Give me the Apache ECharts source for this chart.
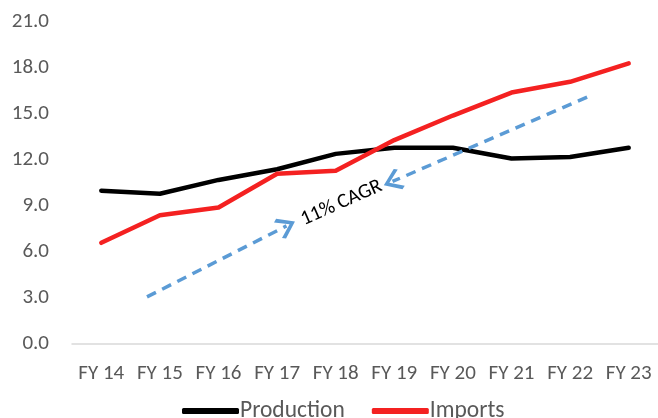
<!DOCTYPE html>
<html>
<head>
<meta charset="utf-8">
<script src="https://cdn.jsdelivr.net/npm/echarts@6/dist/echarts.min.js"></script>
<style>
  html, body { margin: 0; padding: 0; background: #fff; }
  #chart { width: 658px; height: 418px; }
</style>
</head>
<body>
<div id="chart"></div>
<script>
// Fiscal years on the category axis
const years = ['FY 14', 'FY 15', 'FY 16', 'FY 17', 'FY 18', 'FY 19', 'FY 20', 'FY 21', 'FY 22', 'FY 23'];
// Domestic production and imports per year
const production = [10.0, 9.8, 10.7, 11.4, 12.4, 12.8, 12.8, 12.1, 12.2, 12.8];
const imports = [6.6, 8.4, 8.9, 11.1, 11.3, 13.3, 14.9, 16.4, 17.1, 18.3];
// Value-axis ticks
const yTicks = [0, 3, 6, 9, 12, 15, 18, 21];
// Growth-trend arrows, in [year index, value] pairs: start then tip
const trendArrowUp = [[0.78, 3.07], [3.16, 7.7]];
const trendArrowDown = [[8.29, 16.1], [4.97, 10.6]];
// Position of the trend caption
const captionAt = [4.1, 9.2];
const captionText = '11% CAGR';

const font = 'Carlito, Calibri, "Noto Sans", sans-serif';
const chevron = 'path://M0,0 L10,9 L8,11 L0,3.5 L-8,11 L-10,9 Z';

const chart = echarts.init(document.getElementById('chart'));
chart.setOption({
  animation: false,
  grid: { left: 72, right: 0, top: 22, bottom: 74, containLabel: false },
  legend: {
    top: 394,
    left: 177,
    itemWidth: 57,
    itemHeight: 6,
    itemGap: 27,
    icon: 'roundRect',
    textStyle: { fontFamily: font, fontSize: 23.5, color: '#595959', padding: [0, 0, 0, -4] },
    data: ['Production', 'Imports']
  },
  xAxis: [
    {
      type: 'category',
      data: years,
      boundaryGap: true,
      axisLine: { lineStyle: { color: '#d9d9d9', width: 1.5 } },
      axisTick: { show: false },
      axisLabel: { fontFamily: font, fontSize: 21, color: '#595959', margin: 19, interval: 0 }
    },
    { type: 'value', min: -0.5, max: 9.5, show: false }
  ],
  yAxis: {
    type: 'value',
    min: yTicks[0],
    max: yTicks[yTicks.length - 1],
    interval: yTicks[1] - yTicks[0],
    splitLine: { show: false },
    axisLine: { show: false },
    axisTick: { show: false },
    axisLabel: {
      fontFamily: font, fontSize: 21, color: '#595959', margin: 23,
      formatter: v => v.toFixed(1)
    }
  },
  series: [
    {
      name: 'Production',
      type: 'line',
      data: production,
      symbol: 'none',
      itemStyle: { color: '#000000' },
      lineStyle: { color: '#000000', width: 4.5, cap: 'round', join: 'round' }
    },
    {
      name: 'Imports',
      type: 'line',
      data: imports,
      symbol: 'none',
      itemStyle: { color: '#f42121' },
      lineStyle: { color: '#f42121', width: 4.5, cap: 'round', join: 'round' }
    },
    {
      name: 'trend',
      type: 'line',
      xAxisIndex: 1,
      data: [],
      symbol: 'none',
      silent: true,
      markPoint: {
        silent: true,
        symbol: 'circle',
        symbolSize: 0,
        itemStyle: { color: 'rgba(0,0,0,0)' },
        label: {
          show: true,
          position: 'inside',
          formatter: captionText,
          rotate: 24,
          fontFamily: font,
          fontSize: 20.5,
          color: '#000000'
        },
        data: [{ coord: captionAt }]
      },
      markLine: {
        silent: true,
        symbol: ['none', chevron],
        symbolSize: [22, 19],
        label: { show: false },
        lineStyle: { color: '#5b9bd5', width: 3.5, type: [10, 7], cap: 'butt' },
        data: [
          [{ coord: trendArrowUp[0] }, { coord: trendArrowUp[1] }],
          [{ coord: trendArrowDown[0] }, { coord: trendArrowDown[1] }]
        ]
      }
    }
  ]
});
</script>
</body>
</html>
